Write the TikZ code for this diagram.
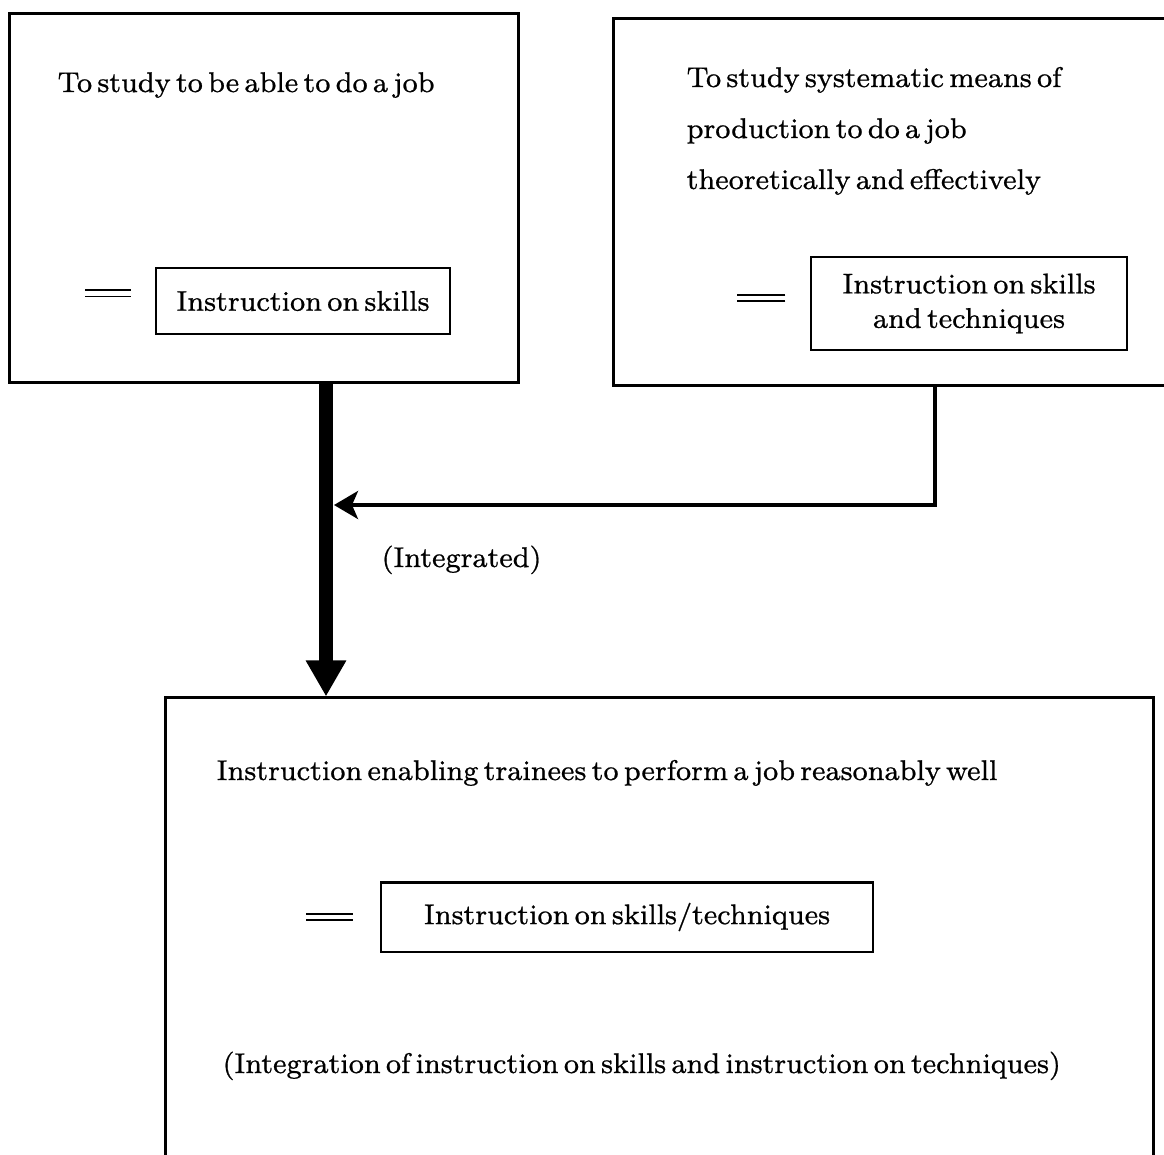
\documentclass[tikz,border=0pt]{standalone}
\usepackage{fontspec}
\usetikzlibrary{arrows.meta}
% a slightly heavier cut of the text face, with tight word spacing
\newfontfamily\labelface{Latin Modern Roman}[FakeBold=0.7]
\newcommand{\labelsize}{\labelface\fontsize{8.1}{9.8}\selectfont\spaceskip=1.5pt\relax}
\begin{document}
\begin{tikzpicture}[x=0.01cm,y=-0.01cm,
  txt/.style={inner sep=0pt, font=\labelsize},
  frame/.style={draw, line width=0.028cm, inner sep=0pt},
  tag/.style={draw, line width=0.02cm, inner sep=0pt, align=center, font=\labelsize},
  eqline/.style={line width=0.016cm},
  mainflow/.style={line width=0.14cm, -{Triangle[length=0.36cm,width=0.38cm]}},
  sideflow/.style={line width=0.035cm, line join=miter,
                   -{Stealth[length=0.24cm,width=0.28cm,inset=0.06cm]}}]
\useasboundingbox (0,0) rectangle (1164,1154);

% outer frames (the right one and the lower one run past the page edge)
\node[frame, minimum width=5.08cm, minimum height=3.68cm] (b1) at (264,198) {};
\node[frame, minimum width=5.86cm, minimum height=3.66cm] (b2) at (907,202) {};
\node[frame, minimum width=9.87cm, minimum height=5.03cm] (b3) at (659.5,949.5) {};

% upper left frame
\node[txt, anchor=base west] (t1) at (57,92) {To study to be able to do a job};
\node[tag, minimum width=2.94cm, minimum height=0.66cm] (s1) at (303,301) {Instruction on skills};
\draw[eqline] ([shift={(-0.24cm,0.11cm)}]s1.west) -- ++(-0.46cm,0);
\draw[eqline] ([shift={(-0.24cm,0.045cm)}]s1.west) -- ++(-0.46cm,0);

% upper right frame
\node[txt, anchor=base west] (t2a) at (686,87) {To study systematic means of};
\node[txt, anchor=base west] (t2b) at (686,138) {production to do a job};
\node[txt, anchor=base west] (t2c) at (686,189) {theoretically and effectively};
\node[tag, minimum width=3.15cm, minimum height=0.92cm] (s2) at (969,303.5) {Instruction on skills\\and techniques};
\draw[eqline] ([shift={(-0.25cm,0.085cm)}]s2.west) -- ++(-0.48cm,0);
\draw[eqline] ([shift={(-0.25cm,0.025cm)}]s2.west) -- ++(-0.48cm,0);

% lower frame
\node[txt, anchor=base west] (t3) at (216,780) {Instruction enabling trainees to perform a job reasonably well};
\node[tag, minimum width=4.92cm, minimum height=0.69cm] (s3) at (627,917) {Instruction on skills/techniques};
\draw[eqline] ([shift={(-0.27cm,0.03cm)}]s3.west) -- ++(-0.47cm,0);
\draw[eqline] ([shift={(-0.27cm,-0.03cm)}]s3.west) -- ++(-0.47cm,0);
\node[txt, anchor=base west] (t4) at (222,1073) {(Integration of instruction on skills and instruction on techniques)};

% connectors
\coordinate (axis) at (326,0);
\draw[mainflow] (b1.south -| axis) -- (b3.north -| axis);
\coordinate (bend) at (935,505);
\coordinate (join) at (334,505);
\draw[sideflow] (b2.south -| bend) -- (bend) -- (join);
\node[txt, anchor=base west] (lbl) at (381,567) {(Integrated)};
\end{tikzpicture}
\end{document}
